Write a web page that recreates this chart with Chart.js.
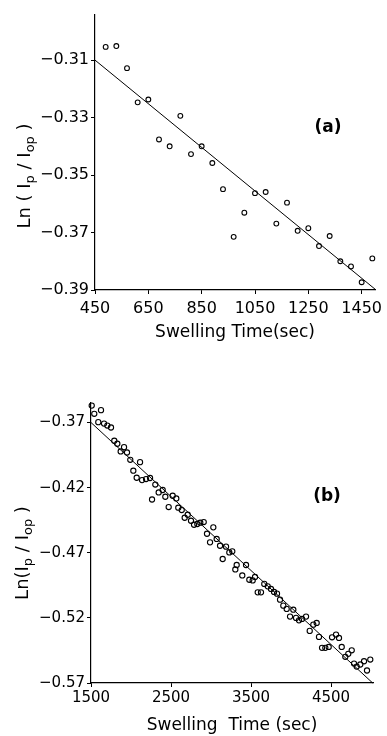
<!DOCTYPE html>
<html>
<head>
<meta charset="utf-8">
<script src="https://cdn.jsdelivr.net/npm/chart.js@4.4.1/dist/chart.umd.min.js"></script>
<style>
  html, body { margin: 0; padding: 0; background: #fff; }
  body { width: 387px; height: 736px; position: relative; overflow: hidden; }
  .panel { position: absolute; left: 0; width: 387px; }
  #panel-a { top: 0; height: 350px; }
  #panel-b { top: 370px; height: 366px; }
</style>
</head>
<body>
<div class="panel" id="panel-a"><canvas id="chart-a"></canvas></div>
<div class="panel" id="panel-b"><canvas id="chart-b"></canvas></div>
<script>
// panel (a): short swelling run
const timeA = [490, 530, 570, 610, 650, 690, 730, 770, 810, 850, 890, 930, 970,
  1010, 1050, 1090, 1130, 1170, 1210, 1250, 1290, 1330, 1370, 1410, 1450, 1490];
const lnA = [-0.3054, -0.3051, -0.3128, -0.3247, -0.3237, -0.3376, -0.3400, -0.3294, -0.3427,
  -0.3400, -0.3458, -0.3549, -0.3715, -0.3631, -0.3563, -0.3559, -0.3669, -0.3596, -0.3694,
  -0.3685, -0.3747, -0.3712, -0.3800, -0.3818, -0.3873, -0.3790];
const fitTimeA = [450, 1500];
const fitLnA = [-0.310, -0.3897];
const xTicksA = [450, 650, 850, 1050, 1250, 1450];
const yTicksA = [-0.39, -0.37, -0.35, -0.33, -0.31];

// panel (b): long swelling run
const timeB = [1509, 1541, 1591, 1625, 1663, 1704, 1750, 1791, 1829, 1871, 1913, 1950, 1991,
  2029, 2071, 2113, 2138, 2188, 2238, 2263, 2304, 2346, 2396, 2429, 2471, 2521, 2566, 2591,
  2634, 2671, 2709, 2750, 2788, 2829, 2866, 2909, 2950, 2988, 3029, 3071, 3113, 3146, 3188,
  3229, 3266, 3304, 3321, 3391, 3438, 3479, 3521, 3550, 3584, 3625, 3666, 3709, 3750, 3788,
  3825, 3863, 3904, 3946, 3988, 4029, 4063, 4100, 4138, 4188, 4234, 4279, 4321, 4350, 4388,
  4429, 4471, 4513, 4563, 4600, 4634, 4679, 4716, 4759, 4788, 4821, 4866, 4913, 4950, 4991];
const lnB = [-0.3570, -0.3633, -0.3697, -0.3605, -0.3708, -0.3723, -0.3738, -0.3840, -0.3863,
  -0.3922, -0.3889, -0.3930, -0.3986, -0.4070, -0.4124, -0.4004, -0.4142, -0.4134, -0.4126,
  -0.4291, -0.4176, -0.4237, -0.4218, -0.4270, -0.4349, -0.4262, -0.4283, -0.4354, -0.4372,
  -0.4431, -0.4408, -0.4454, -0.4485, -0.4479, -0.4469, -0.4464, -0.4554, -0.4620, -0.4505,
  -0.4594, -0.4646, -0.4748, -0.4653, -0.4697, -0.4689, -0.4828, -0.4794, -0.4874, -0.4794,
  -0.4907, -0.4912, -0.4886, -0.5004, -0.5004, -0.4939, -0.4958, -0.4978, -0.5001, -0.5014,
  -0.5060, -0.5106, -0.5131, -0.5190, -0.5137, -0.5200, -0.5219, -0.5208, -0.5190, -0.5300,
  -0.5252, -0.5239, -0.5346, -0.5430, -0.5430, -0.5423, -0.5349, -0.5328, -0.5354, -0.5423,
  -0.5499, -0.5476, -0.5449, -0.5551, -0.5574, -0.5558, -0.5533, -0.5604, -0.5520];
const fitTimeB = [1500, 5021];
const fitLnB = [-0.370, -0.570];
const xTicksB = [1500, 2500, 3500, 4500];
const yTicksB = [-0.57, -0.52, -0.47, -0.42, -0.37];

const FONT = "'DejaVu Sans', sans-serif";
const yTitleA = [
  { t: "Ln ( I" }, { t: "p", sub: true }, { t: " / I" }, { t: "op", sub: true }, { t: " )" }
];
const yTitleB = [
  { t: "Ln(I" }, { t: "p", sub: true }, { t: " / I" }, { t: "op", sub: true }, { t: " )" }
];

// draws the rotated y title (with subscripts) and the (a)/(b) tag
const sideText = {
  id: "sideText",
  afterDraw(chart, args, opts) {
    const ctx = chart.ctx;
    ctx.save();
    ctx.fillStyle = "#000";
    ctx.textBaseline = "middle";

    ctx.font = `bold ${opts.tagSize}px ${FONT}`;
    ctx.textAlign = "center";
    ctx.fillText(opts.tag, opts.tagX, opts.tagY);

    const size = opts.titleSize;
    const subSize = Math.round(size * 0.72);
    ctx.textAlign = "left";
    let total = 0;
    opts.parts.forEach((p) => {
      ctx.font = `${p.sub ? subSize : size}px ${FONT}`;
      total += ctx.measureText(p.t).width;
    });
    ctx.translate(opts.titleX, opts.titleY);
    ctx.rotate(-Math.PI / 2);
    let x = -total / 2;
    opts.parts.forEach((p) => {
      ctx.font = `${p.sub ? subSize : size}px ${FONT}`;
      ctx.fillText(p.t, x, p.sub ? size * 0.3 : 0);
      x += ctx.measureText(p.t).width;
    });
    ctx.restore();
  }
};

function minusFmt(v) {
  return (v < 0 ? "\u2212" : "") + Math.abs(v).toFixed(2);
}

function buildChart(id, c) {
  return new Chart(document.getElementById(id), {
    type: "scatter",
    data: {
      datasets: [
        {
          label: "measured",
          data: c.time.map((t, i) => ({ x: t, y: c.ln[i] })),
          pointRadius: c.r,
          pointBorderWidth: 1.1,
          pointBorderColor: "#000",
          pointBackgroundColor: "rgba(255,255,255,0)",
          clip: false
        },
        {
          label: "fit",
          data: c.fitTime.map((t, i) => ({ x: t, y: c.fitLn[i] })),
          showLine: true,
          borderColor: "#000",
          borderWidth: 1,
          pointRadius: 0,
          clip: false
        }
      ]
    },
    options: {
      responsive: true,
      maintainAspectRatio: false,
      animation: false,
      layout: { autoPadding: false, padding: c.padding },
      plugins: {
        legend: { display: false },
        tooltip: { enabled: false },
        sideText: c.side
      },
      scales: {
        x: {
          type: "linear",
          min: c.xMin,
          max: c.xMax,
          afterBuildTicks: (s) => { s.ticks = c.xTicks.map((v) => ({ value: v })); },
          afterFit: (s) => { s.height = c.xHeight; s.paddingLeft = 0; s.paddingRight = 0; },
          ticks: {
            color: "#000",
            font: { family: FONT, size: c.tickSize },
            padding: c.xTickPad,
            maxRotation: 0,
            autoSkip: false,
            callback: (v) => String(v)
          },
          grid: { drawOnChartArea: false, tickLength: 4, color: "#000" },
          border: { color: "#000", width: 1.2 },
          title: {
            display: true,
            text: c.xTitle,
            color: "#000",
            font: { family: FONT, size: 17, lineHeight: 1.2 },
            padding: { top: 0, bottom: c.xTitlePad }
          }
        },
        y: {
          type: "linear",
          min: c.yMin,
          max: c.yMax,
          afterBuildTicks: (s) => { s.ticks = c.yTicks.map((v) => ({ value: v })); },
          afterFit: (s) => { s.width = c.yWidth; s.paddingTop = 0; s.paddingBottom = 0; },
          ticks: {
            color: "#000",
            font: { family: FONT, size: c.tickSize },
            padding: 2,
            autoSkip: false,
            callback: (v) => minusFmt(v)
          },
          grid: { drawOnChartArea: false, tickLength: 4, color: "#000" },
          border: { color: "#000", width: 1.2 }
        }
      }
    },
    plugins: [sideText]
  });
}

buildChart("chart-a", {
  time: timeA, ln: lnA, fitTime: fitTimeA, fitLn: fitLnA,
  xTicks: xTicksA, yTicks: yTicksA,
  xMin: 450, xMax: 1500, yMin: -0.39, yMax: -0.2943,
  padding: { top: 15, right: 12, left: 0, bottom: 0 },
  xHeight: 60, yWidth: 95, r: 2.4, tickSize: 16, xTickPad: 5,
  xTitle: "Swelling Time(sec)", xTitlePad: 7,
  side: { tag: "(a)", tagX: 328, tagY: 128, tagSize: 17, titleX: 25, titleY: 176, titleSize: 18, parts: yTitleA }
});

buildChart("chart-b", {
  time: timeB, ln: lnB, fitTime: fitTimeB, fitLn: fitLnB,
  xTicks: xTicksB, yTicks: yTicksB,
  xMin: 1500, xMax: 5025, yMin: -0.57, yMax: -0.355,
  padding: { top: 33, right: 14, left: 0, bottom: 0 },
  xHeight: 53, yWidth: 91, r: 2.6, tickSize: 15, xTickPad: 2,
  xTitle: "Swelling  Time (sec)", xTitlePad: 0,
  side: { tag: "(b)", tagX: 327, tagY: 127, tagSize: 17, titleX: 23, titleY: 183, titleSize: 18, parts: yTitleB }
});
</script>
</body>
</html>
